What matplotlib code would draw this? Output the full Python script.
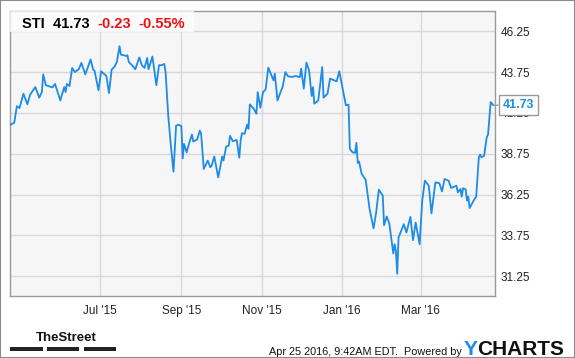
import pandas as pd
import matplotlib.pyplot as plt
from matplotlib.patches import Rectangle

# STI daily close (days counted from the first point)
start = pd.Timestamp('2015-04-24')
days = [0, 3, 5, 7, 10, 13, 15, 19, 22, 24, 25, 27, 32, 34, 38, 41, 42, 43, 45, 47,
        49, 52, 54, 57, 61, 63, 64, 67, 69, 73, 75, 77, 79, 81, 83, 84, 88, 89, 90, 92,
        95, 98, 100, 102, 104, 105, 108, 111, 113, 115, 117, 118, 120, 122, 124, 126, 128, 130, 131, 132,
        134, 136, 138, 139, 142, 144, 145, 147, 150, 152, 153, 155, 158, 161, 162, 164, 166, 167, 169, 172,
        174, 175, 176, 178, 180, 181, 182, 185, 187, 188, 190, 192, 194, 196, 200, 201, 203, 207, 209, 211,
        214, 217, 220, 221, 223, 225, 227, 229, 230, 231, 234, 237, 238, 241, 243, 248, 250, 252, 255, 257,
        258, 260, 262, 263, 264, 265, 267, 270, 273, 276, 278, 280, 283, 284, 286, 288, 291, 292, 293, 294,
        295, 297, 299, 301, 304, 306, 308, 311, 313, 315, 318, 320, 323, 326, 328, 330, 333, 335, 339, 340,
        342, 343, 344, 346, 347, 348, 349, 352, 354, 356, 357, 358, 360, 362, 363, 365, 367]
prices = [40.53, 40.65, 41.67, 41.55, 42.43, 41.78, 42.37, 42.84, 42.19, 42.53, 43.62, 42.95, 42.82, 43.03, 42.02, 42.84, 42.53, 43.03, 42.90, 44.01,
          43.76, 43.93, 44.32, 43.62, 44.53, 43.91, 43.85, 42.64, 43.81, 43.52, 42.47, 43.91, 44.07, 44.38, 45.35, 44.83, 44.75, 44.79, 44.38, 44.22,
          43.93, 44.66, 44.18, 44.01, 44.62, 43.93, 44.71, 42.95, 44.18, 44.18, 44.26, 43.76, 41.10, 39.25, 37.65, 40.48, 40.53, 40.44, 38.47, 39.36,
          38.84, 39.42, 39.93, 39.50, 39.62, 40.17, 39.97, 37.82, 38.33, 37.92, 38.02, 38.58, 37.30, 38.58, 38.33, 39.19, 39.25, 39.85, 39.52, 39.60,
          38.50, 39.56, 40.01, 39.97, 40.54, 40.28, 41.78, 41.51, 41.20, 42.53, 41.57, 42.53, 42.68, 44.03, 43.25, 43.66, 42.02, 42.88, 43.76, 43.50,
          43.46, 43.52, 43.44, 43.97, 42.74, 44.34, 43.87, 42.29, 42.84, 41.82, 42.02, 44.07, 42.19, 42.43, 43.36, 43.19, 43.81, 42.95, 41.72, 41.76,
          39.05, 38.84, 38.80, 39.42, 38.19, 38.27, 37.51, 37.16, 35.36, 34.17, 35.15, 36.55, 36.18, 34.37, 34.90, 34.47, 32.63, 33.20, 32.79, 31.39,
          33.61, 34.02, 34.43, 33.92, 34.88, 33.45, 34.53, 33.20, 35.87, 37.10, 36.79, 35.09, 37.00, 36.94, 36.44, 37.20, 37.10, 36.65, 36.79, 36.38,
          36.59, 36.12, 36.63, 36.57, 35.87, 36.12, 35.42, 35.87, 36.12, 38.53, 38.70, 38.53, 38.62, 39.76, 39.93, 41.92, 41.73]
dates = start + pd.to_timedelta(days, unit='D')

y_ticks = [31.25, 33.75, 36.25, 38.75, 41.25, 43.75, 46.25]
x_ticks = pd.to_datetime(['2015-07-01', '2015-09-01', '2015-11-01', '2016-01-01', '2016-03-01'])
x_labels = ["Jul '15", "Sep '15", "Nov '15", "Jan '16", "Mar '16"]

ticker = 'STI'
last = 41.73
change = '-0.23'
change_pct = '-0.55%'

plt.rcParams['font.family'] = ['Liberation Sans', 'DejaVu Sans']
blue = '#1c8ce8'

fig = plt.figure(figsize=(5.75, 3.58), dpi=100)
fig.patches.append(Rectangle((0, 0), 1, 1, transform=fig.transFigure, fill=False,
                             edgecolor='#8c8c8c', linewidth=1.5))

ax = fig.add_axes([0.0179, 0.172, 0.843, 0.798])
ax.set_facecolor('#f6f6f6')
ax.plot(dates, prices, color=blue, linewidth=1.3, zorder=3)

ax.set_ylim(30.0, 47.52)
ax.set_xlim(start, start + pd.Timedelta(days=368.3))
ax.set_yticks(y_ticks)
ax.set_yticklabels([f'{t:.2f}' for t in y_ticks])
ax.set_xticks(x_ticks)
ax.set_xticklabels(x_labels)
ax.yaxis.tick_right()
ax.tick_params(length=0, labelsize=8.5, colors='#222222')
ax.tick_params(axis='y', pad=4)
ax.tick_params(axis='x', pad=6)
ax.grid(True, color='#d8d8d8', linewidth=1)
for s in ax.spines.values():
    s.set_color('#9a9a9a')
    s.set_linewidth(1)

# header box
ax.add_patch(Rectangle((0, 0.925), 0.38, 0.075, transform=ax.transAxes,
                       facecolor='white', alpha=0.75, edgecolor='none', zorder=4))
ax.text(0.024, 0.955, f'{ticker}  {last:.2f}', transform=ax.transAxes, fontsize=10.5,
        fontweight='bold', color='black', va='center', zorder=5)
ax.text(0.18, 0.955, change, transform=ax.transAxes, fontsize=10.5,
        fontweight='bold', color='#ee1111', va='center', zorder=5)
ax.text(0.265, 0.955, change_pct, transform=ax.transAxes, fontsize=10.5,
        fontweight='bold', color='#ee1111', va='center', zorder=5)

# last price flag
ax.annotate(f'{last:.2f}', xy=(dates[-1], prices[-1]), xytext=(6.5, 0),
            textcoords='offset points', fontsize=9, fontweight='bold', color=blue,
            va='center', ha='left', annotation_clip=False, zorder=6,
            bbox=dict(boxstyle='square,pad=0.3', facecolor='white', edgecolor='#999999', linewidth=1),
            arrowprops=dict(arrowstyle='-', color='#999999', linewidth=1, shrinkA=0, shrinkB=0))

# footer
fig.text(0.063, 0.048, 'TheStreet', fontsize=9.5, fontweight='bold', color='#111111',
         va='baseline')
for x0 in [0.018, 0.082, 0.146]:
    fig.patches.append(Rectangle((x0, 0.0196), 0.056, 0.0105, transform=fig.transFigure,
                                 facecolor='#222222', edgecolor='none'))
fig.text(0.467, 0.009, 'Apr 25 2016, 9:42AM EDT.  Powered by', fontsize=7.8,
         color='#111111', va='baseline')
fig.text(0.806, 0.009, 'Y', fontsize=15, fontweight='bold', color=blue, va='baseline')
fig.text(0.829, 0.009, 'CHARTS', fontsize=15, fontweight='bold', color='#111111', va='baseline')

fig.savefig('out.png', dpi=100)
